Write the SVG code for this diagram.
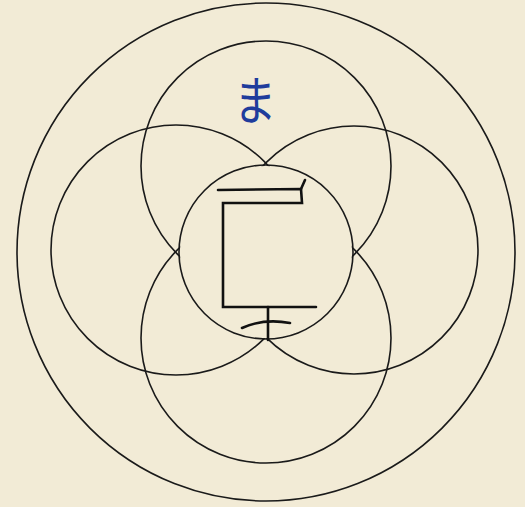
<svg xmlns="http://www.w3.org/2000/svg" width="525" height="507" viewBox="0 0 525 507">
<style>
.c{fill:none;stroke:#1a1a1a;stroke-width:1.6}
.s{fill:none;stroke:#111;stroke-width:2.6;stroke-linecap:round;stroke-linejoin:miter}
</style>
<defs>
<mask id="hole" maskUnits="userSpaceOnUse" x="0" y="0" width="525" height="507">
<rect width="525" height="507" fill="#fff"/>
<circle cx="266" cy="252" r="86" fill="#000"/>
</mask>
</defs>
<rect width="525" height="507" fill="#f2ebd6"/>
<g id="outer"><circle class="c" cx="266" cy="252" r="249"/></g>
<g mask="url(#hole)">
<g id="top"><circle class="c" cx="266" cy="166" r="125"/></g>
<g id="bottom"><circle class="c" cx="266" cy="338" r="125"/></g>
<g id="left"><circle class="c" cx="176" cy="250" r="125"/></g>
<g id="right"><circle class="c" cx="354" cy="250" r="124"/></g>
</g>
<g id="center"><circle class="c" cx="266" cy="252" r="87"/></g>
<g id="symbol">
<path class="s" d="M218 190 L301 189 L302 203 L223 203 L223 307 L316 307"/>
<path class="s" d="M301 189 L305 180" stroke-width="2"/>
<path class="s" d="M268 307 L268 340"/>
<path class="s" d="M242 328 Q264 318 290 323"/>
</g>
<g id="syllable">
<text x="0" y="0" transform="translate(255 120) scale(0.82 1)" font-family="Noto Sans CJK JP, sans-serif" font-size="52" fill="#1f3c9c" text-anchor="middle">ま</text>
</g>
</svg>
